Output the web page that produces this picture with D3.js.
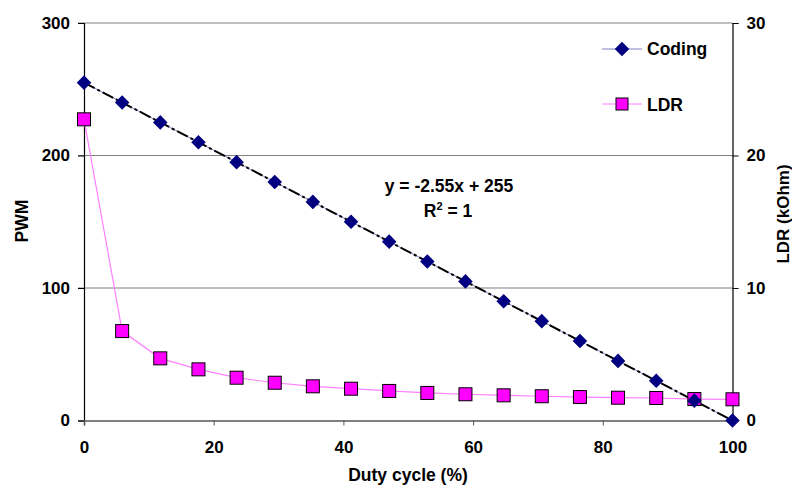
<!DOCTYPE html>
<html><head><meta charset="utf-8">
<script src="https://cdn.jsdelivr.net/npm/d3@7"></script>
<style>body{margin:0;background:#fff}svg{display:block}text{font-family:Arial,"Liberation Sans",sans-serif;font-weight:bold}</style>
</head><body><svg id="c" width="792" height="485"></svg>
<script>
const duty = [0,5.88,11.76,17.65,23.53,29.41,35.29,41.18,47.06,52.94,58.82,64.71,70.59,76.47,82.35,88.24,94.12,100];
const coding = [255,240,225,210,195,180,165,150,135,120,105,90,75,60,45,30,15,0];
const ldr = [22.73,6.75,4.69,3.86,3.23,2.85,2.58,2.4,2.23,2.08,1.98,1.9,1.83,1.77,1.72,1.7,1.62,1.6];
const xTicks = [0,20,40,60,80,100];
const yTicks = [0,100,200,300];
const y2Ticks = [0,10,20,30];
const trend = {slope:-2.55, intercept:255};

const svg = d3.select("#c");
const L=84, R=732.5, T=23, B=420.5;
const x = d3.scaleLinear().domain([0,100]).range([L,R]);
const y = d3.scaleLinear().domain([0,300]).range([B,T]);
const y2 = d3.scaleLinear().domain([0,30]).range([B,T]);

// gridlines
svg.append("g").selectAll("line").data(yTicks.filter(d=>d>0)).join("line")
  .attr("x1",L-6).attr("x2",R).attr("y1",d=>y(d)).attr("y2",d=>y(d))
  .attr("stroke","#808080").attr("stroke-width",1);

// left axis
const ga = svg.append("g").attr("transform",`translate(${L},0)`)
  .call(d3.axisLeft(y).tickValues(yTicks).tickSize(6).tickPadding(8));
ga.select(".domain").attr("stroke","#000").attr("stroke-width",1.2);
ga.selectAll("line").attr("stroke","#000");
ga.selectAll("text").style("font-size","17px").style("font-weight","bold").attr("fill","#000");

// right axis
const gr = svg.append("g").attr("transform",`translate(${R},0)`)
  .call(d3.axisRight(y2).tickValues(y2Ticks).tickSize(6).tickPadding(8));
gr.select(".domain").attr("stroke","#000").attr("stroke-width",1.2);
gr.selectAll("line").attr("stroke","#000");
gr.selectAll("text").style("font-size","17px").style("font-weight","bold").attr("fill","#000");

// bottom axis
const gb = svg.append("g").attr("transform",`translate(0,${B})`)
  .call(d3.axisBottom(x).tickValues(xTicks).tickSize(5).tickPadding(15));
gb.select(".domain").attr("stroke","#555").attr("stroke-width",1.6);
gb.selectAll("line").attr("stroke","#555");
gb.selectAll("text").style("font-size","17px").style("font-weight","bold").attr("fill","#000");

// titles
svg.append("text").attr("x",408).attr("y",481).attr("text-anchor","middle").style("font-size","17.5px").text("Duty cycle (%)");
svg.append("text").attr("transform","translate(28,221) rotate(-90)").attr("text-anchor","middle").style("font-size","17.5px").text("PWM");
svg.append("text").attr("transform","translate(789,214) rotate(-90)").attr("text-anchor","middle").style("font-size","17px").text("LDR (kOhm)");

// LDR line
svg.append("path").datum(duty.map((d,i)=>[d,ldr[i]]))
  .attr("d",d3.line().x(d=>x(d[0])).y(d=>y2(d[1])))
  .attr("fill","none").attr("stroke","#ff80ff").attr("stroke-width",1.2);

// Coding line
svg.append("path").datum(duty.map((d,i)=>[d,coding[i]]))
  .attr("d",d3.line().x(d=>x(d[0])).y(d=>y(d[1])))
  .attr("fill","none").attr("stroke","#8080c8").attr("stroke-width",1);

// trendline
svg.append("line").attr("x1",x(0)).attr("y1",y(trend.intercept)).attr("x2",x(100)).attr("y2",y(trend.intercept+trend.slope*100))
  .attr("stroke","#000").attr("stroke-width",2).attr("stroke-dasharray","12,3,3,3");

svg.append("g").selectAll("rect").data(duty.map((d,i)=>[d,ldr[i]])).join("rect")
  .attr("x",d=>x(d[0])-6.5).attr("y",d=>y2(d[1])-6.5).attr("width",13).attr("height",13)
  .attr("fill","#ff00ff").attr("stroke","#000").attr("stroke-width",1);

const diamond = d3.symbol().type(d3.symbolDiamond2).size(135);
svg.append("g").selectAll("path").data(duty.map((d,i)=>[d,coding[i]])).join("path")
  .attr("transform",d=>`translate(${x(d[0])},${y(d[1])})`).attr("d",diamond).attr("fill","#000080");

// equation
svg.append("text").attr("x",449).attr("y",192).attr("text-anchor","middle").style("font-size","17.5px").text("y = -2.55x + 255");
const r2 = svg.append("text").attr("x",448).attr("y",217).attr("text-anchor","middle").style("font-size","17.5px");
r2.append("tspan").text("R");
r2.append("tspan").attr("dy",-7).style("font-size","11px").text("2");
r2.append("tspan").attr("dy",7).text(" = 1");

// legend
const lg = svg.append("g");
lg.append("line").attr("x1",602).attr("x2",642).attr("y1",49).attr("y2",49).attr("stroke","#8080c8");
lg.append("path").attr("transform","translate(622,49)").attr("d",diamond).attr("fill","#000080");
lg.append("text").attr("x",647).attr("y",55).style("font-size","17.5px").text("Coding");
lg.append("line").attr("x1",602).attr("x2",642).attr("y1",104).attr("y2",104).attr("stroke","#ff80ff");
lg.append("rect").attr("x",616).attr("y",98).attr("width",12).attr("height",12).attr("fill","#ff00ff").attr("stroke","#000");
lg.append("text").attr("x",647).attr("y",110.5).style("font-size","17.5px").text("LDR");
</script></body></html>
